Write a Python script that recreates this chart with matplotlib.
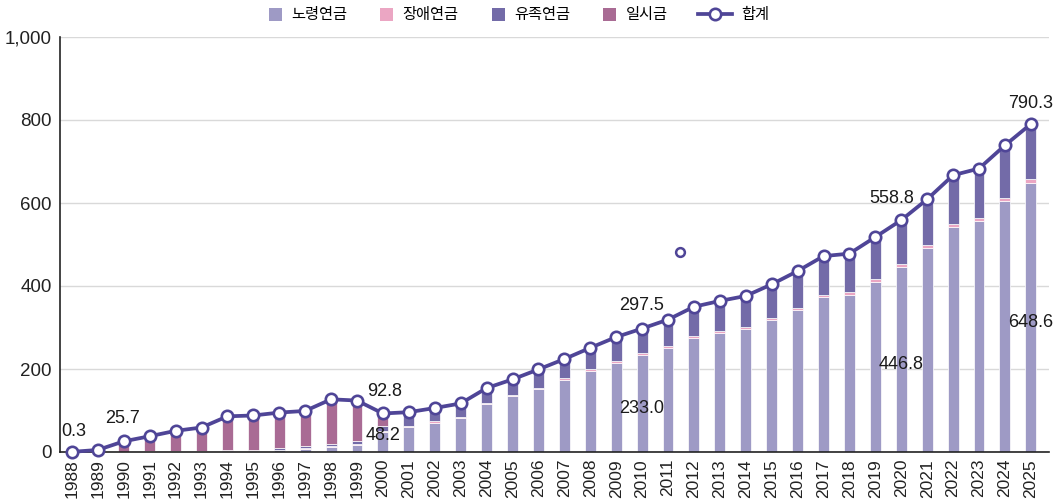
import matplotlib
matplotlib.use("Agg")
import matplotlib.pyplot as plt
import matplotlib.patches as mpatches
from matplotlib.legend_handler import HandlerPatch
from matplotlib.lines import Line2D
from matplotlib.ticker import FuncFormatter, FixedLocator

# ---------------- data ----------------
years = list(range(1988, 2026))
old_age = [0, 0, 0, 0, 0, 0.5, 0.5, 2, 4, 8, 12, 16, 48.2, 60, 71, 82, 115, 134.5, 152, 174,
           195.5, 215.5, 233.0, 251, 275, 286, 296, 317, 342, 373, 379, 410, 446.8, 492, 541,
           557, 604, 648.6]
disability = [0, 0.2, 0.5, 0.5, 1, 1, 1, 1, 1.5, 1.5, 2, 2.5, 3, 3, 2.5, 2.5, 3, 3, 3, 3.5,
              4, 4, 4.5, 4.5, 5, 5, 5, 5.5, 6, 6, 6.5, 7, 7, 7.5, 8, 8, 8.5, 9]
survivor = [0, 0.3, 0.7, 1, 1.5, 2, 2.5, 3, 4, 4.5, 6, 8, 12, 25, 28, 30, 33, 35, 40, 43,
            48, 53, 56, 60, 65, 68, 70, 77, 82, 87, 87, 95, 99, 104, 112, 112, 120, 126]
lump_sum = [0.3, 4.5, 24.5, 36.5, 48.5, 55.5, 82, 82, 85.5, 85, 107, 97.5, 29.6, 8, 4.5, 3,
            3, 3, 3, 3, 3, 4, 4, 4, 5, 5, 5, 5, 5, 5, 5, 6, 6, 6, 6, 6, 6.5, 6.7]
total = [0.3, 5, 25.7, 38, 51, 59, 86, 88, 95, 99, 127, 124, 92.8, 96, 106, 117, 154, 175,
         199, 224, 251, 277, 297.5, 319, 350, 364, 376, 404, 436, 472, 478, 518, 558.8, 609,
         667, 683, 739, 790.3]
stray_x = [2011.46]
stray_y = [482]

series_names = ["노령연금", "장애연금", "유족연금", "일시금"]
total_name = "합계"
y_ticks = [0, 200, 400, 600, 800, 1000]
total_label_years = [1988, 1990, 2000, 2010, 2020, 2025]
old_label_years = [2000, 2010, 2020, 2025]

# ---------------- style ----------------
c_old = "#9e9ac5"
c_dis = "#eba6c3"
c_surv = "#736ba8"
c_lump = "#a96b94"
c_line = "#4f4597"

plt.rcParams["font.family"] = ["Noto Sans CJK KR", "DejaVu Sans"]
num_font = ["Liberation Sans", "DejaVu Sans"]

fig = plt.figure(figsize=(10.62, 5.01), dpi=100)
ax = fig.add_axes([60 / 1062, 49 / 501, (1049 - 60) / 1062, (452 - 37) / 501])

w = 0.42
bottom = [0.0] * len(years)
patch_handles = []
for vals, col, name in zip([old_age, disability, survivor, lump_sum],
                           [c_old, c_dis, c_surv, c_lump], series_names):
    ax.bar(years, vals, width=w, bottom=bottom, color=col, edgecolor="white",
           linewidth=0.5, zorder=2)
    bottom = [b + v for b, v in zip(bottom, vals)]
    patch_handles.append(mpatches.Patch(facecolor=col, label=name))

ax.plot(years, total, color=c_line, lw=2.7, marker="o", ms=8.2, mfc="white",
        mec=c_line, mew=1.9, zorder=5, clip_on=False)
ax.plot(stray_x, stray_y, linestyle="none", marker="o", ms=6.3, mfc="white",
        mec=c_line, mew=1.8, zorder=5)
line_handle = Line2D([0], [0], color=c_line, lw=2.7, marker="o", ms=8.2, mfc="white",
                     mec=c_line, mew=1.9, label=total_name)

# labels
tot_off = {1988: (1.5, 20), 1990: (-1, 23), 2000: (2, 22), 2010: (-1, 23),
           2020: (-10, 22), 2025: (0, 21)}
for yr in total_label_years:
    i = years.index(yr)
    dx, dy = tot_off[yr]
    ax.annotate(f"{total[i]:.1f}", (yr, total[i]), xytext=(dx * 0.72, dy * 0.72),
                textcoords="offset points", ha="center", va="center",
                fontsize=13, family=num_font, color="#1a1a1a", zorder=6)
old_pos = {2000: 40, 2010: 105, 2020: 212, 2025: 313}
for yr in old_label_years:
    i = years.index(yr)
    ax.annotate(f"{old_age[i]:.1f}", (yr, old_pos[yr]), ha="center", va="center",
                fontsize=13, family=num_font, color="#1a1a1a", zorder=6)

# axes
ax.set_xlim(1987.54, 2025.7)
ax.set_ylim(0, 1000)
ax.yaxis.set_major_locator(FixedLocator(y_ticks))
ax.yaxis.set_major_formatter(FuncFormatter(lambda v, p: f"{v:,.0f}"))
ax.set_xticks(years)
ax.set_xticklabels([str(y) for y in years], rotation=90, family=num_font,
                   fontsize=12.5, color="#222222")
for t in ax.get_yticklabels():
    t.set_family(num_font)
    t.set_fontsize(13.5)
    t.set_color("#222222")
ax.tick_params(axis="both", length=0)
ax.tick_params(axis="x", pad=5)
ax.tick_params(axis="y", pad=6)
ax.grid(axis="y", color="#d9d9d9", lw=1, zorder=0)
ax.set_axisbelow(True)
for s in ["top", "right"]:
    ax.spines[s].set_visible(False)
for s in ["left", "bottom"]:
    ax.spines[s].set_color("#222222")
    ax.spines[s].set_linewidth(1.2)
    ax.spines[s].set_zorder(4)


def square_patch(legend, orig_handle, xdescent, ydescent, width, height, fontsize):
    s = width
    return mpatches.Rectangle((-xdescent, (height - s) / 2 - ydescent), s, s)


leg1 = fig.legend(handles=patch_handles, loc="center left",
                  bbox_to_anchor=(269 / 1062, 1 - 15 / 501), ncol=4,
                  frameon=False, fontsize=11, handlelength=0.85, handletextpad=0.62,
                  columnspacing=2.15, borderpad=0, borderaxespad=0,
                  handler_map={mpatches.Patch: HandlerPatch(patch_func=square_patch)})
leg2 = fig.legend(handles=[line_handle], loc="center left",
                  bbox_to_anchor=(698 / 1062, 1 - 15 / 501), ncol=1,
                  frameon=False, fontsize=11, handlelength=2.2, handletextpad=0.6,
                  borderpad=0, borderaxespad=0)

fig.savefig("out.png", dpi=100)
